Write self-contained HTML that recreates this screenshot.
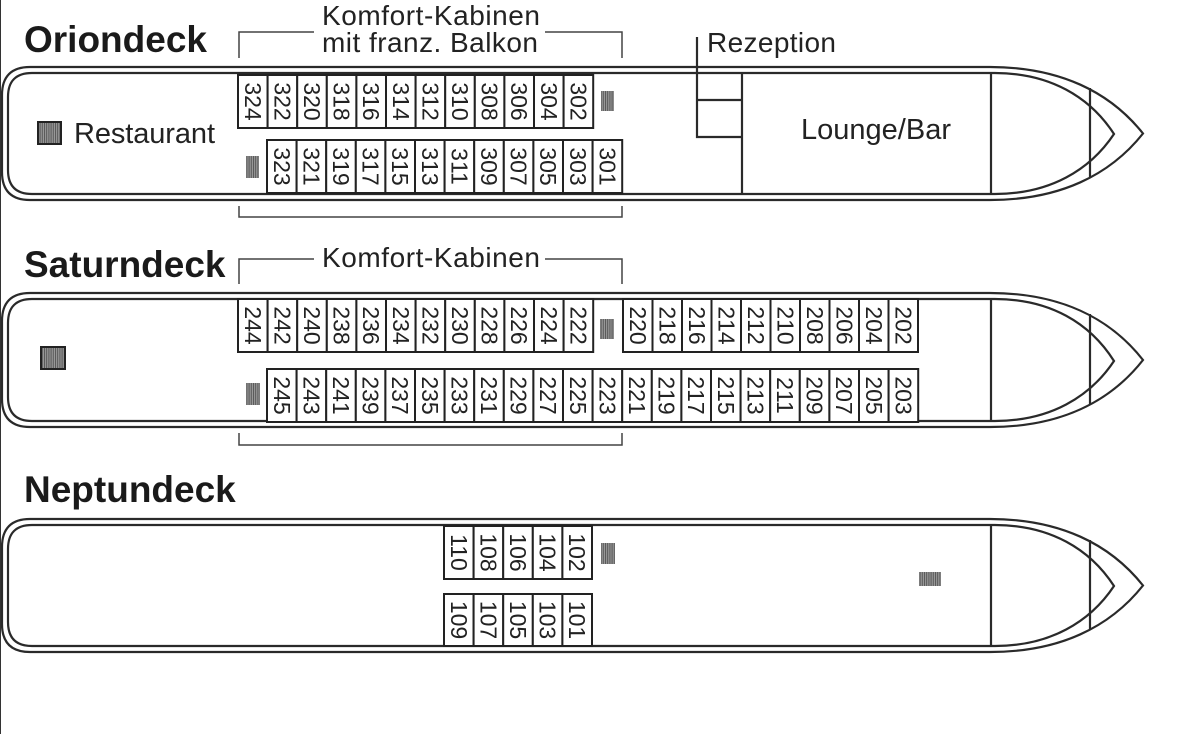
<!DOCTYPE html>
<html><head><meta charset="utf-8"><style>
html,body{margin:0;padding:0;background:#fff;}
svg{display:block;}
.t{font-family:"Liberation Sans",sans-serif;fill:#222;}
.h{font-family:"Liberation Sans",sans-serif;font-weight:bold;fill:#1a1a1a;font-size:37px;}
.c text{font-family:"Liberation Sans",sans-serif;font-size:23px;fill:#222;text-anchor:middle;dominant-baseline:central;}
.c rect{fill:#fff;stroke:#222;stroke-width:2;}
</style></head><body>
<svg width="1190" height="734" viewBox="0 0 1190 734" xmlns="http://www.w3.org/2000/svg">
<defs>
<pattern id="st" width="2.2" height="4" patternUnits="userSpaceOnUse"><rect width="1.2" height="4" fill="#555"/><rect x="1.2" width="1" height="4" fill="#999"/></pattern>
</defs>
<line x1="0.5" y1="0" x2="0.5" y2="734" stroke="#333" stroke-width="1"/>
<g fill="none" stroke="#2a2a2a" stroke-width="2.2">
<path d="M990,67 H30 Q2,67 2,95 V172 Q2,200 30,200 H990 C1060,200 1110,175 1143,133.5 C1110,92 1060,67 990,67 Z"/>
<path d="M995,73 H32 Q8,73 8,97 V170 Q8,194 32,194 H995 C1050,194 1090,170 1114,134 C1090,97 1050,73 995,73 Z"/>
<line x1="991" y1="73" x2="991" y2="194"/><line x1="1090" y1="88" x2="1090" y2="177"/>
<path d="M990,293 H30 Q2,293 2,321 V399 Q2,427 30,427 H990 C1060,427 1110,402 1143,360 C1110,318 1060,293 990,293 Z"/>
<path d="M995,299 H32 Q8,299 8,323 V397 Q8,421 32,421 H995 C1050,421 1090,397 1114,361 C1090,323 1050,299 995,299 Z"/>
<line x1="991" y1="299" x2="991" y2="421"/><line x1="1090" y1="314" x2="1090" y2="404"/>
<path d="M990,519 H30 Q2,519 2,547 V624 Q2,652 30,652 H990 C1060,652 1110,627 1143,585.5 C1110,544 1060,519 990,519 Z"/>
<path d="M995,525 H32 Q8,525 8,549 V622 Q8,646 32,646 H995 C1050,646 1090,622 1114,586 C1090,549 1050,525 995,525 Z"/>
<line x1="991" y1="525" x2="991" y2="646"/><line x1="1090" y1="540" x2="1090" y2="629"/>
<line x1="742" y1="73" x2="742" y2="194"/>
<path d="M697,37 V137 H742 M697,100 H742"/>
</g>
<g fill="none" stroke="#444" stroke-width="1.5">
<path d="M239,58 V32 H314 M545,32 H622 V58"/>
<path d="M239,206 V217 H622 V206"/>
<path d="M239,284 V259 H314 M545,259 H622 V284"/>
<path d="M239,433 V445 H622 V433"/>
</g>
<text class="h" x="24" y="52">Oriondeck</text>
<text class="h" x="24" y="277">Saturndeck</text>
<text class="h" x="24" y="502">Neptundeck</text>
<text class="t" x="322" y="25" font-size="28" textLength="218">Komfort-Kabinen</text>
<text class="t" x="322" y="52" font-size="28" textLength="216">mit franz. Balkon</text>
<text class="t" x="322" y="267" font-size="28" textLength="218">Komfort-Kabinen</text>
<text class="t" x="707" y="52" font-size="28" textLength="129">Rezeption</text>
<text class="t" x="801" y="139" font-size="29" textLength="150">Lounge/Bar</text>
<text class="t" x="74" y="143" font-size="29" textLength="141">Restaurant</text>
<rect x="38" y="122" width="23" height="22" fill="url(#st)" stroke="#222" stroke-width="2"/>
<rect x="41" y="347" width="24" height="22" fill="url(#st)" stroke="#222" stroke-width="2"/>
<rect x="601" y="91" width="13" height="20" fill="url(#st)"/>
<rect x="246" y="156" width="13" height="22" fill="url(#st)"/>
<rect x="600" y="319" width="14" height="20" fill="url(#st)"/>
<rect x="246" y="383" width="14" height="22" fill="url(#st)"/>
<rect x="601" y="543" width="14" height="21" fill="url(#st)"/>
<rect x="919" y="572" width="22" height="14" fill="url(#st)"/>
<g class="c">
<rect x="238" y="75" width="29.6" height="53"/><text transform="translate(252.8,101.5) rotate(90)">324</text>
<rect x="267.6" y="75" width="29.6" height="53"/><text transform="translate(282.4,101.5) rotate(90)">322</text>
<rect x="297.2" y="75" width="29.6" height="53"/><text transform="translate(312,101.5) rotate(90)">320</text>
<rect x="326.8" y="75" width="29.6" height="53"/><text transform="translate(341.6,101.5) rotate(90)">318</text>
<rect x="356.4" y="75" width="29.6" height="53"/><text transform="translate(371.2,101.5) rotate(90)">316</text>
<rect x="386" y="75" width="29.6" height="53"/><text transform="translate(400.8,101.5) rotate(90)">314</text>
<rect x="415.6" y="75" width="29.6" height="53"/><text transform="translate(430.4,101.5) rotate(90)">312</text>
<rect x="445.2" y="75" width="29.6" height="53"/><text transform="translate(460,101.5) rotate(90)">310</text>
<rect x="474.8" y="75" width="29.6" height="53"/><text transform="translate(489.6,101.5) rotate(90)">308</text>
<rect x="504.4" y="75" width="29.6" height="53"/><text transform="translate(519.2,101.5) rotate(90)">306</text>
<rect x="534" y="75" width="29.6" height="53"/><text transform="translate(548.8,101.5) rotate(90)">304</text>
<rect x="563.6" y="75" width="29.6" height="53"/><text transform="translate(578.4,101.5) rotate(90)">302</text>
<rect x="267" y="140" width="29.6" height="53"/><text transform="translate(281.8,166.5) rotate(90)">323</text>
<rect x="296.6" y="140" width="29.6" height="53"/><text transform="translate(311.4,166.5) rotate(90)">321</text>
<rect x="326.2" y="140" width="29.6" height="53"/><text transform="translate(341,166.5) rotate(90)">319</text>
<rect x="355.8" y="140" width="29.6" height="53"/><text transform="translate(370.6,166.5) rotate(90)">317</text>
<rect x="385.4" y="140" width="29.6" height="53"/><text transform="translate(400.2,166.5) rotate(90)">315</text>
<rect x="415" y="140" width="29.6" height="53"/><text transform="translate(429.8,166.5) rotate(90)">313</text>
<rect x="444.6" y="140" width="29.6" height="53"/><text transform="translate(459.4,166.5) rotate(90)">311</text>
<rect x="474.2" y="140" width="29.6" height="53"/><text transform="translate(489,166.5) rotate(90)">309</text>
<rect x="503.8" y="140" width="29.6" height="53"/><text transform="translate(518.6,166.5) rotate(90)">307</text>
<rect x="533.4" y="140" width="29.6" height="53"/><text transform="translate(548.2,166.5) rotate(90)">305</text>
<rect x="563" y="140" width="29.6" height="53"/><text transform="translate(577.8,166.5) rotate(90)">303</text>
<rect x="592.6" y="140" width="29.6" height="53"/><text transform="translate(607.4,166.5) rotate(90)">301</text>
<rect x="238" y="299" width="29.6" height="53"/><text transform="translate(252.8,325.5) rotate(90)">244</text>
<rect x="267.6" y="299" width="29.6" height="53"/><text transform="translate(282.4,325.5) rotate(90)">242</text>
<rect x="297.2" y="299" width="29.6" height="53"/><text transform="translate(312,325.5) rotate(90)">240</text>
<rect x="326.8" y="299" width="29.6" height="53"/><text transform="translate(341.6,325.5) rotate(90)">238</text>
<rect x="356.4" y="299" width="29.6" height="53"/><text transform="translate(371.2,325.5) rotate(90)">236</text>
<rect x="386" y="299" width="29.6" height="53"/><text transform="translate(400.8,325.5) rotate(90)">234</text>
<rect x="415.6" y="299" width="29.6" height="53"/><text transform="translate(430.4,325.5) rotate(90)">232</text>
<rect x="445.2" y="299" width="29.6" height="53"/><text transform="translate(460,325.5) rotate(90)">230</text>
<rect x="474.8" y="299" width="29.6" height="53"/><text transform="translate(489.6,325.5) rotate(90)">228</text>
<rect x="504.4" y="299" width="29.6" height="53"/><text transform="translate(519.2,325.5) rotate(90)">226</text>
<rect x="534" y="299" width="29.6" height="53"/><text transform="translate(548.8,325.5) rotate(90)">224</text>
<rect x="563.6" y="299" width="29.6" height="53"/><text transform="translate(578.4,325.5) rotate(90)">222</text>
<rect x="623" y="299" width="29.5" height="53"/><text transform="translate(637.8,325.5) rotate(90)">220</text>
<rect x="652.5" y="299" width="29.5" height="53"/><text transform="translate(667.3,325.5) rotate(90)">218</text>
<rect x="682" y="299" width="29.5" height="53"/><text transform="translate(696.8,325.5) rotate(90)">216</text>
<rect x="711.5" y="299" width="29.5" height="53"/><text transform="translate(726.3,325.5) rotate(90)">214</text>
<rect x="741" y="299" width="29.5" height="53"/><text transform="translate(755.8,325.5) rotate(90)">212</text>
<rect x="770.5" y="299" width="29.5" height="53"/><text transform="translate(785.3,325.5) rotate(90)">210</text>
<rect x="800" y="299" width="29.5" height="53"/><text transform="translate(814.8,325.5) rotate(90)">208</text>
<rect x="829.5" y="299" width="29.5" height="53"/><text transform="translate(844.3,325.5) rotate(90)">206</text>
<rect x="859" y="299" width="29.5" height="53"/><text transform="translate(873.8,325.5) rotate(90)">204</text>
<rect x="888.5" y="299" width="29.5" height="53"/><text transform="translate(903.3,325.5) rotate(90)">202</text>
<rect x="267" y="369" width="29.6" height="53"/><text transform="translate(281.8,395.5) rotate(90)">245</text>
<rect x="296.6" y="369" width="29.6" height="53"/><text transform="translate(311.4,395.5) rotate(90)">243</text>
<rect x="326.2" y="369" width="29.6" height="53"/><text transform="translate(341,395.5) rotate(90)">241</text>
<rect x="355.8" y="369" width="29.6" height="53"/><text transform="translate(370.6,395.5) rotate(90)">239</text>
<rect x="385.4" y="369" width="29.6" height="53"/><text transform="translate(400.2,395.5) rotate(90)">237</text>
<rect x="415" y="369" width="29.6" height="53"/><text transform="translate(429.8,395.5) rotate(90)">235</text>
<rect x="444.6" y="369" width="29.6" height="53"/><text transform="translate(459.4,395.5) rotate(90)">233</text>
<rect x="474.2" y="369" width="29.6" height="53"/><text transform="translate(489,395.5) rotate(90)">231</text>
<rect x="503.8" y="369" width="29.6" height="53"/><text transform="translate(518.6,395.5) rotate(90)">229</text>
<rect x="533.4" y="369" width="29.6" height="53"/><text transform="translate(548.2,395.5) rotate(90)">227</text>
<rect x="563" y="369" width="29.6" height="53"/><text transform="translate(577.8,395.5) rotate(90)">225</text>
<rect x="592.6" y="369" width="29.6" height="53"/><text transform="translate(607.4,395.5) rotate(90)">223</text>
<rect x="622.2" y="369" width="29.6" height="53"/><text transform="translate(637,395.5) rotate(90)">221</text>
<rect x="651.8" y="369" width="29.6" height="53"/><text transform="translate(666.6,395.5) rotate(90)">219</text>
<rect x="681.4" y="369" width="29.6" height="53"/><text transform="translate(696.2,395.5) rotate(90)">217</text>
<rect x="711" y="369" width="29.6" height="53"/><text transform="translate(725.8,395.5) rotate(90)">215</text>
<rect x="740.6" y="369" width="29.6" height="53"/><text transform="translate(755.4,395.5) rotate(90)">213</text>
<rect x="770.2" y="369" width="29.6" height="53"/><text transform="translate(785,395.5) rotate(90)">211</text>
<rect x="799.8" y="369" width="29.6" height="53"/><text transform="translate(814.6,395.5) rotate(90)">209</text>
<rect x="829.4" y="369" width="29.6" height="53"/><text transform="translate(844.2,395.5) rotate(90)">207</text>
<rect x="859" y="369" width="29.6" height="53"/><text transform="translate(873.8,395.5) rotate(90)">205</text>
<rect x="888.6" y="369" width="29.6" height="53"/><text transform="translate(903.4,395.5) rotate(90)">203</text>
<rect x="444" y="526" width="29.6" height="53"/><text transform="translate(458.8,552.5) rotate(90)">110</text>
<rect x="473.6" y="526" width="29.6" height="53"/><text transform="translate(488.4,552.5) rotate(90)">108</text>
<rect x="503.2" y="526" width="29.6" height="53"/><text transform="translate(518,552.5) rotate(90)">106</text>
<rect x="532.8" y="526" width="29.6" height="53"/><text transform="translate(547.6,552.5) rotate(90)">104</text>
<rect x="562.4" y="526" width="29.6" height="53"/><text transform="translate(577.2,552.5) rotate(90)">102</text>
<rect x="444" y="594" width="29.6" height="52"/><text transform="translate(458.8,620) rotate(90)">109</text>
<rect x="473.6" y="594" width="29.6" height="52"/><text transform="translate(488.4,620) rotate(90)">107</text>
<rect x="503.2" y="594" width="29.6" height="52"/><text transform="translate(518,620) rotate(90)">105</text>
<rect x="532.8" y="594" width="29.6" height="52"/><text transform="translate(547.6,620) rotate(90)">103</text>
<rect x="562.4" y="594" width="29.6" height="52"/><text transform="translate(577.2,620) rotate(90)">101</text>
</g>
</svg>
</body></html>
